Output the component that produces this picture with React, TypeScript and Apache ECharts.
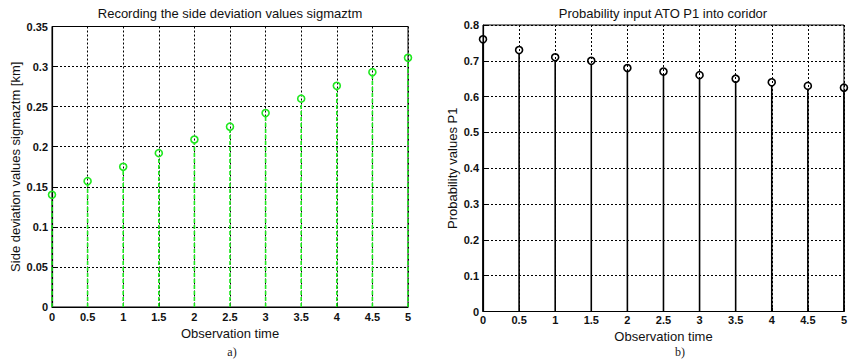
import React, { useEffect, useRef } from "react";
import * as echarts from "echarts";

const timeValues = [0, 0.5, 1, 1.5, 2, 2.5, 3, 3.5, 4, 4.5, 5];
const sigmaValues = [0.14, 0.157, 0.175, 0.192, 0.209, 0.225, 0.242, 0.26, 0.276, 0.293, 0.311];
const p1Values = [0.76, 0.73, 0.71, 0.7, 0.68, 0.67, 0.66, 0.65, 0.64, 0.63, 0.625];

const titleA = "Recording the side deviation values sigmaztm";
const titleB = "Probability input ATO P1 into coridor";
const xName = "Observation time";
const yNameA = "Side deviation values sigmaztm [km]";
const yNameB = "Probability values P1";

const FONT = "Liberation Sans, Arial, sans-serif";

function stemRender(color: string, dash: number[] | null) {
  return (params: any, api: any) => {
    const x = api.value(0);
    const y = api.value(1);
    const p0 = api.coord([x, 0]);
    const p1 = api.coord([x, y]);
    return {
      type: "group",
      children: [
        {
          type: "line",
          shape: { x1: p0[0], y1: p0[1], x2: p1[0], y2: p1[1] + 3.5 },
          style: { stroke: color, lineWidth: 1.6, lineDash: dash || undefined },
        },
        {
          type: "circle",
          shape: { cx: p1[0], cy: p1[1], r: 3.5 },
          style: { fill: "none", stroke: color, lineWidth: 1.6 },
        },
      ],
    };
  };
}

export default function App() {
  const ref = useRef<HTMLDivElement>(null);
  useEffect(() => {
    if (!ref.current) return;
    const chart = echarts.init(ref.current, null, { renderer: "svg" });
    const axisLabel = { color: "#111", fontFamily: FONT, fontSize: 11, fontWeight: "bold" as const };
    const split = { show: true, lineStyle: { color: "#000", type: [2, 2] as any, width: 1 } };
    const xAxisBase = (gridIndex: number, margin: number, nameGap: number) => ({
      type: "value" as const,
      gridIndex,
      min: 0,
      max: 5,
      interval: 0.5,
      name: xName,
      nameLocation: "middle" as const,
      nameGap,
      nameTextStyle: { color: "#111", fontFamily: FONT, fontSize: 13 },
      axisLine: { show: true, onZero: false, lineStyle: { color: "#000", width: 1.2 } },
      axisTick: { show: true, inside: true, length: 4, lineStyle: { color: "#000" } },
      axisLabel: { ...axisLabel, margin },
      splitLine: split,
    });
    chart.setOption({
      animation: false,
      backgroundColor: "#fff",
      grid: [
        { left: 52, top: 26.5, width: 356, height: 280.5, show: true, borderColor: "#000", borderWidth: 1, backgroundColor: "#fff" },
        { left: 483, top: 25, width: 362, height: 286.5, show: true, borderColor: "#000", borderWidth: 1, backgroundColor: "#fff" },
      ],
      xAxis: [xAxisBase(0, 4, 19), xAxisBase(1, 3, 18)],
      yAxis: [
        {
          type: "value",
          gridIndex: 0,
          min: 0,
          max: 0.35,
          interval: 0.05,
          name: yNameA,
          nameLocation: "middle",
          nameGap: 30,
          nameTextStyle: { color: "#111", fontFamily: FONT, fontSize: 13 },
          axisLine: { show: true, lineStyle: { color: "#000", width: 1.2 } },
          axisTick: { show: true, inside: true, length: 4, lineStyle: { color: "#000" } },
          axisLabel: { ...axisLabel, margin: 4 },
          splitLine: split,
        },
        {
          type: "value",
          gridIndex: 1,
          min: 0,
          max: 0.8,
          interval: 0.1,
          name: yNameB,
          nameLocation: "middle",
          nameGap: 24,
          nameTextStyle: { color: "#111", fontFamily: FONT, fontSize: 13 },
          axisLine: { show: true, lineStyle: { color: "#000", width: 1.2 } },
          axisTick: { show: true, inside: true, length: 4, lineStyle: { color: "#000" } },
          axisLabel: { ...axisLabel, margin: 4 },
          splitLine: split,
        },
      ],
      series: [
        {
          type: "custom",
          name: "sigmaztm",
          xAxisIndex: 0,
          yAxisIndex: 0,
          clip: false,
          renderItem: stemRender("#1ee81e", [4, 2]),
          data: timeValues.map((t, i) => [t, sigmaValues[i]]),
          z: 5,
        },
        {
          type: "custom",
          name: "P1",
          xAxisIndex: 1,
          yAxisIndex: 1,
          clip: false,
          renderItem: stemRender("#000", null),
          data: timeValues.map((t, i) => [t, p1Values[i]]),
          z: 5,
        },
      ],
      graphic: [
        { type: "text", x: 230, y: 13, style: { text: titleA, fill: "#111", font: `13px ${FONT}`, textAlign: "center", textVerticalAlign: "middle" } },
        { type: "text", x: 663, y: 13, style: { text: titleB, fill: "#111", font: `13px ${FONT}`, textAlign: "center", textVerticalAlign: "middle" } },
        { type: "text", x: 232, y: 352, style: { text: "a)", fill: "#222", font: `12px "Liberation Serif", "DejaVu Serif", serif`, textAlign: "center", textVerticalAlign: "middle" } },
        { type: "text", x: 680, y: 352, style: { text: "b)", fill: "#222", font: `12px "Liberation Serif", "DejaVu Serif", serif`, textAlign: "center", textVerticalAlign: "middle" } },
      ],
    });
    return () => chart.dispose();
  }, []);
  return (
    <div
      ref={ref}
      style={{ position: "fixed", left: 0, top: 0, width: 850, height: 360, background: "#fff" }}
    />
  );
}
